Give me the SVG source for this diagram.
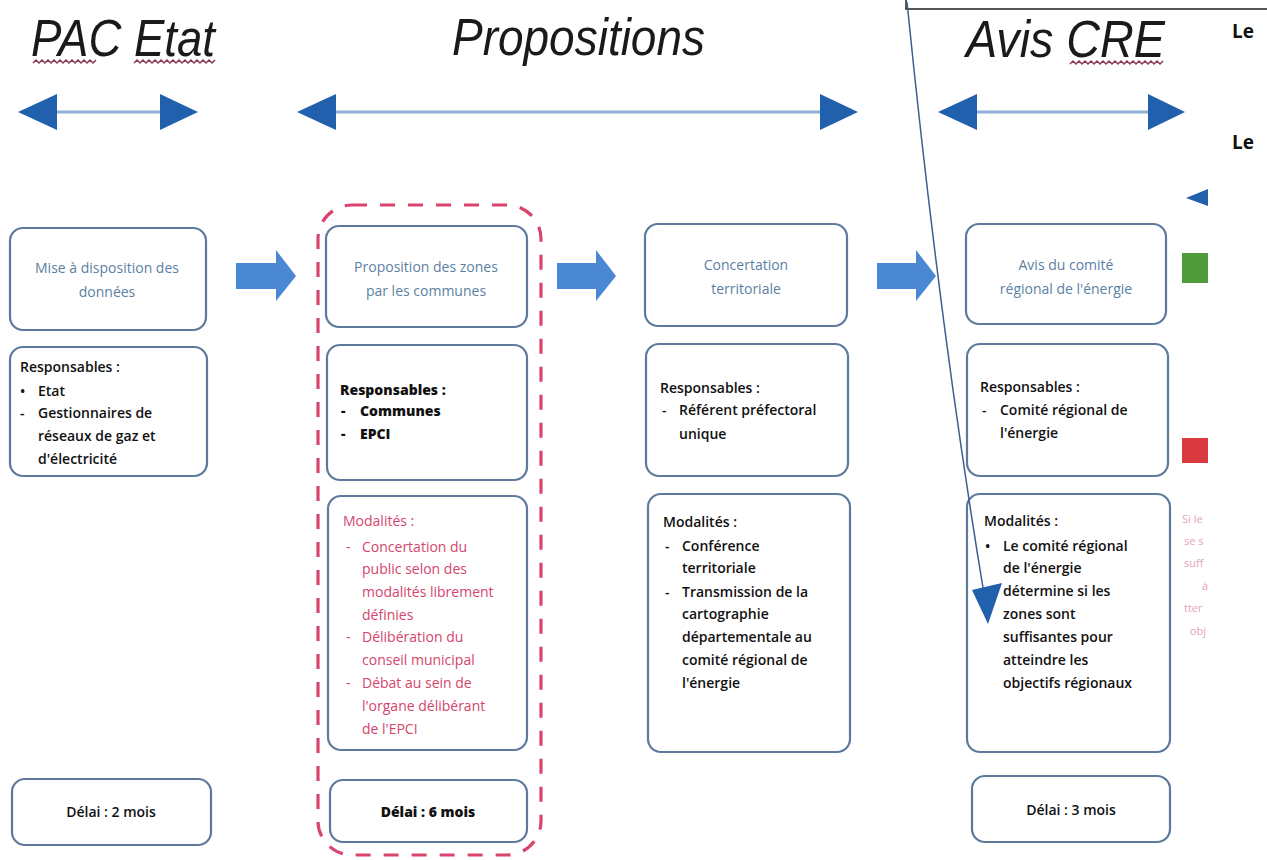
<svg xmlns="http://www.w3.org/2000/svg" width="1267" height="860" viewBox="0 0 1267 860">
<defs>
<style>
.title{font-family:"Liberation Sans",Arial,sans-serif;font-style:italic;font-size:52px;fill:#1a1a1a}
.box{fill:#fff;stroke:#5d7a9c;stroke-width:2.2}
.hd{font-family:"Open Sans","Liberation Sans",sans-serif;font-size:14px;fill:#5b7fa3;text-anchor:middle}
.tx{font-family:"Open Sans","Liberation Sans",sans-serif;font-size:14px;fill:#111;font-weight:600}
.bd{font-weight:800}
.pk{font-family:"Open Sans","Liberation Sans",sans-serif;font-size:14px;fill:#d4456c}
.tri{fill:#2160ad}
.hl{stroke:#8eaed6;stroke-width:3}
.blk{fill:#4a88d4}
.sq{fill:none;stroke:#8c3a4f;stroke-width:1.5}
.frag{font-family:"Open Sans","Liberation Sans",sans-serif;font-size:11px;fill:#e8a3b6}
</style>
<marker id="ah" viewBox="0 0 10 10" refX="9" refY="5" markerWidth="9" markerHeight="9" markerUnits="userSpaceOnUse" orient="auto"><path d="M0,0 L10,5 L0,10 z" fill="#2160ad"/></marker>
</defs>
<rect width="1267" height="860" fill="#fff"/>

<!-- top-right cut box -->
<path d="M906 0 V9 H1267" fill="none" stroke="#222" stroke-width="1.5"/>

<!-- titles -->
<g id="titles">
<text class="title" x="31" y="56" textLength="184" lengthAdjust="spacingAndGlyphs">PAC Etat</text>
<text class="title" x="452" y="55" textLength="253" lengthAdjust="spacingAndGlyphs">Propositions</text>
<text class="title" x="966" y="57" textLength="199" lengthAdjust="spacingAndGlyphs">Avis CRE</text>
<path class="sq" d="M33 63 l3 -3 l3 3 l3 -3 l3 3 l3 -3 l3 3 l3 -3 l3 3 l3 -3 l3 3 l3 -3 l3 3 l3 -3 l3 3 l3 -3 l3 3 l3 -3 l3 3 l3 -3 l3 3 l3 -3"/>
<path class="sq" d="M134 63 l3 -3 l3 3 l3 -3 l3 3 l3 -3 l3 3 l3 -3 l3 3 l3 -3 l3 3 l3 -3 l3 3 l3 -3 l3 3 l3 -3 l3 3 l3 -3 l3 3 l3 -3 l3 3 l3 -3 l3 3 l3 -3 l3 3 l3 -3 l3 3 l3 -3"/>
<path class="sq" d="M1070 64 l3 -3 l3 3 l3 -3 l3 3 l3 -3 l3 3 l3 -3 l3 3 l3 -3 l3 3 l3 -3 l3 3 l3 -3 l3 3 l3 -3 l3 3 l3 -3 l3 3 l3 -3 l3 3 l3 -3 l3 3 l3 -3 l3 3 l3 -3 l3 3 l3 -3 l3 3 l3 -3 l3 3 l3 -3"/>
<text x="1232" y="38" font-family="'Open Sans','Liberation Sans',sans-serif" font-size="19" font-weight="700" fill="#111">Le</text>
<text x="1232" y="149" font-family="'Open Sans','Liberation Sans',sans-serif" font-size="19" font-weight="700" fill="#111">Le</text>
</g>

<!-- span double arrows -->
<g id="spans">
<line class="hl" x1="50" y1="112" x2="165" y2="112"/>
<polygon class="tri" points="18,112 57,94 57,130"/>
<polygon class="tri" points="198,112 160,94 160,130"/>
<line class="hl" x1="330" y1="112" x2="825" y2="112"/>
<polygon class="tri" points="297,112 336,94 336,130"/>
<polygon class="tri" points="858,112 820,94 820,130"/>
<line class="hl" x1="970" y1="112" x2="1155" y2="112"/>
<polygon class="tri" points="938,112 977,94 977,130"/>
<polygon class="tri" points="1185,112 1148,94 1148,130"/>
</g>

<!-- right-edge fragments -->
<g id="edge">
<polygon class="tri" points="1186,198 1208,189 1208,206"/>
<rect x="1182" y="253" width="26" height="30" fill="#4f9a3a"/>
<rect x="1182" y="438" width="26" height="25" fill="#d83a3f"/>
<text class="frag" x="1182" y="523">Si le</text>
<text class="frag" x="1184" y="545">se s</text>
<text class="frag" x="1184" y="567">suff</text>
<text class="frag" x="1202" y="590">à</text>
<text class="frag" x="1184" y="612">tter</text>
<text class="frag" x="1190" y="635">obj</text>
</g>

<!-- column 1 -->
<g id="col1-title"><rect class="box" x="10" y="228" width="196" height="102" rx="13"/>
<text class="hd" x="107" y="273">Mise à disposition des</text><text class="hd" x="107" y="297">données</text></g>
<g id="col1-resp"><rect class="box" x="10" y="347" width="197" height="129" rx="13"/>
<text class="tx" x="20" y="372">Responsables :</text>
<text class="tx" x="20" y="396">•</text><text class="tx" x="38" y="396">Etat</text>
<text class="tx" x="20" y="418">-</text><text class="tx" x="38" y="418">Gestionnaires de</text>
<text class="tx" x="38" y="441">réseaux de gaz et</text>
<text class="tx" x="38" y="464">d'électricité</text></g>
<g id="col1-delai"><rect class="box" x="12" y="779" width="199" height="66" rx="13"/>
<text class="tx" x="111" y="817" text-anchor="middle">Délai : 2 mois</text></g>

<!-- column 2 -->
<g id="col2-group"><rect x="318" y="205" width="223" height="650" rx="34" fill="none" stroke="#d9456c" stroke-width="3.2" stroke-dasharray="15,13"/></g>
<g id="col2-title"><rect class="box" x="326" y="226" width="201" height="101" rx="13"/>
<text class="hd" x="426" y="272">Proposition des zones</text><text class="hd" x="426" y="296">par les communes</text></g>
<g id="col2-resp"><rect class="box" x="327" y="345" width="200" height="135" rx="13"/>
<text class="tx bd" x="340" y="395">Responsables :</text>
<text class="tx bd" x="341" y="416">-</text><text class="tx bd" x="360" y="416">Communes</text>
<text class="tx bd" x="341" y="439">-</text><text class="tx bd" x="360" y="439">EPCI</text></g>
<g id="col2-mod"><rect class="box" x="328" y="496" width="199" height="254" rx="13"/>
<text class="pk" x="343" y="526">Modalités :</text>
<text class="pk" x="346" y="552">-</text><text class="pk" x="362" y="552">Concertation du</text>
<text class="pk" x="362" y="574">public selon des</text>
<text class="pk" x="362" y="597">modalités librement</text>
<text class="pk" x="362" y="620">définies</text>
<text class="pk" x="346" y="642">-</text><text class="pk" x="362" y="642">Délibération du</text>
<text class="pk" x="362" y="665">conseil municipal</text>
<text class="pk" x="346" y="688">-</text><text class="pk" x="362" y="688">Débat au sein de</text>
<text class="pk" x="362" y="711">l'organe délibérant</text>
<text class="pk" x="362" y="734">de l'EPCI</text></g>
<g id="col2-delai"><rect class="box" x="330" y="780" width="197" height="62" rx="13"/>
<text class="tx bd" x="428" y="817" text-anchor="middle">Délai : 6 mois</text></g>

<!-- column 3 -->
<g id="col3-title"><rect class="box" x="645" y="224" width="202" height="102" rx="13"/>
<text class="hd" x="746" y="270">Concertation</text><text class="hd" x="746" y="294">territoriale</text></g>
<g id="col3-resp"><rect class="box" x="646" y="344" width="202" height="132" rx="13"/>
<text class="tx" x="660" y="393">Responsables :</text>
<text class="tx" x="662" y="415">-</text><text class="tx" x="679" y="415">Référent préfectoral</text>
<text class="tx" x="679" y="439">unique</text></g>
<g id="col3-mod"><rect class="box" x="648" y="494" width="202" height="258" rx="13"/>
<text class="tx" x="663" y="527">Modalités :</text>
<text class="tx" x="665" y="551">-</text><text class="tx" x="682" y="551">Conférence</text>
<text class="tx" x="682" y="573">territoriale</text>
<text class="tx" x="665" y="597">-</text><text class="tx" x="682" y="597">Transmission de la</text>
<text class="tx" x="682" y="619">cartographie</text>
<text class="tx" x="682" y="642">départementale au</text>
<text class="tx" x="682" y="665">comité régional de</text>
<text class="tx" x="682" y="688">l'énergie</text></g>

<!-- column 4 -->
<g id="col4-title"><rect class="box" x="966" y="224" width="200" height="100" rx="13"/>
<text class="hd" x="1066" y="270">Avis du comité</text><text class="hd" x="1066" y="294">régional de l'énergie</text></g>
<g id="col4-resp"><rect class="box" x="967" y="344" width="201" height="132" rx="13"/>
<text class="tx" x="980" y="392">Responsables :</text>
<text class="tx" x="982" y="415">-</text><text class="tx" x="1000" y="415">Comité régional de</text>
<text class="tx" x="1000" y="438">l'énergie</text></g>
<g id="col4-mod"><rect class="box" x="967" y="494" width="203" height="258" rx="13"/>
<text class="tx" x="984" y="526">Modalités :</text>
<text class="tx" x="985" y="551">•</text><text class="tx" x="1003" y="551">Le comité régional</text>
<text class="tx" x="1003" y="573">de l'énergie</text>
<text class="tx" x="1003" y="596">détermine si les</text>
<text class="tx" x="1003" y="619">zones sont</text>
<text class="tx" x="1003" y="642">suffisantes pour</text>
<text class="tx" x="1003" y="665">atteindre les</text>
<text class="tx" x="1003" y="688">objectifs régionaux</text></g>
<g id="col4-delai"><rect class="box" x="972" y="776" width="198" height="66" rx="13"/>
<text class="tx" x="1071" y="815" text-anchor="middle">Délai : 3 mois</text></g>

<!-- connectors -->
<g id="connectors">
<polygon class="blk" points="236,263 276,263 276,250 296,276 276,301 276,289 236,289"/>
<polygon class="blk" points="557,263 596,263 596,250 616,276 596,301 596,289 557,289"/>
<polygon class="blk" points="877,263 916,263 916,250 936,276 916,301 916,289 877,289"/>
<path d="M907 2 Q940 330 985 600" fill="none" stroke="#3b5f8e" stroke-width="1.5"/>
<polygon points="972,590 1002,583 988,624" fill="#2160ad"/>
</g>
</svg>
